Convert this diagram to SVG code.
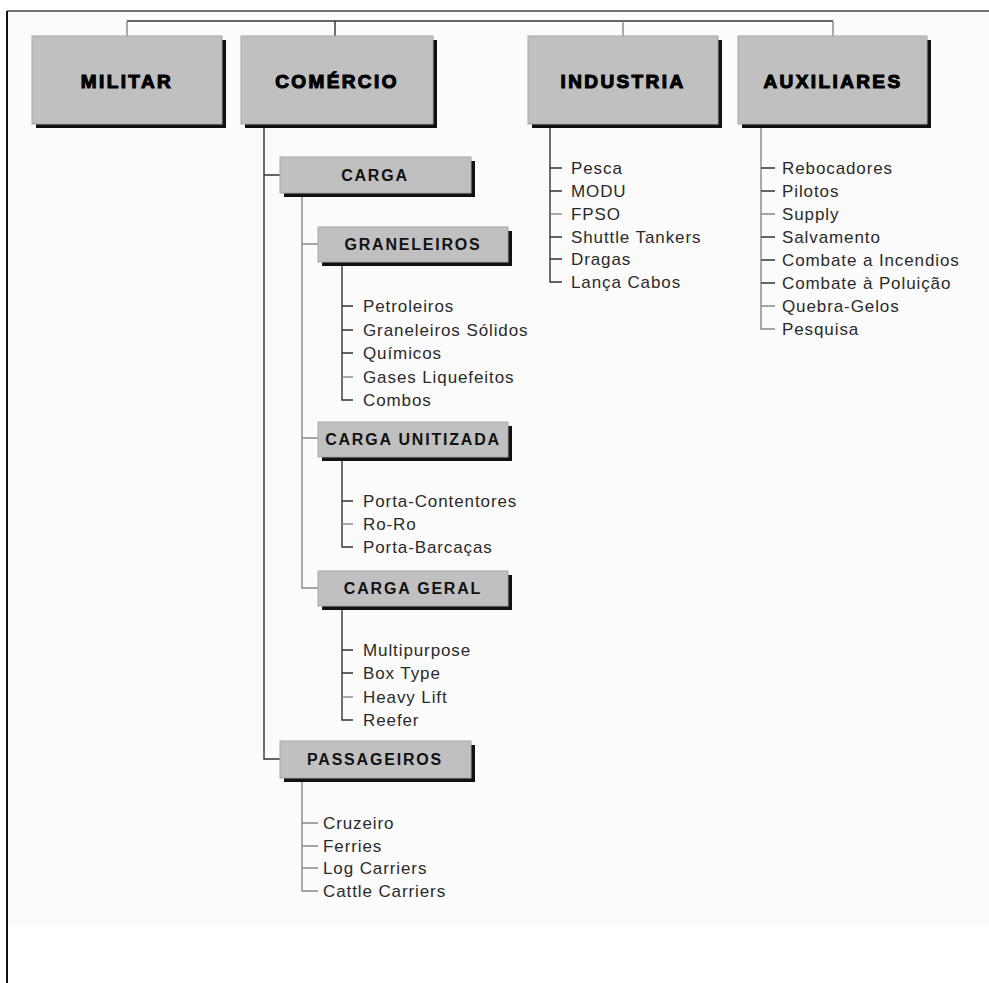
<svg xmlns="http://www.w3.org/2000/svg" width="989" height="983" viewBox="0 0 989 983">
<defs>
<style>
.shadow{fill:#111}
.box{fill:#c0c0c0;stroke:#a8a8a8;stroke-width:1}
.t1{font-family:"Liberation Sans",Arial,sans-serif;font-size:19px;font-weight:bold;letter-spacing:2.4px;fill:#000;stroke:#000;stroke-width:1.1;text-anchor:middle;dominant-baseline:central}
.t2{font-family:"Liberation Sans",Arial,sans-serif;font-size:16px;font-weight:bold;letter-spacing:1.8px;fill:#111;text-anchor:middle;dominant-baseline:central}
.leaf{font-family:"Liberation Sans",Arial,sans-serif;font-size:17px;letter-spacing:0.9px;fill:#2a2a2a;dominant-baseline:central}
.c{fill:none;stroke:#333;stroke-width:1.4}
.g{fill:none;stroke:#888;stroke-width:1.4}
</style>
</defs>
<rect x="0" y="0" width="989" height="983" fill="#fff"/>
<rect x="8" y="12" width="981" height="914" fill="#fbfbfb"/>
<g id="frame">
<line x1="7" y1="11" x2="989" y2="11" stroke="#444" stroke-width="1.5"/>
<line x1="7" y1="11" x2="7" y2="983" stroke="#111" stroke-width="2"/>
</g>
<g id="connectors">
<path class="c" d="M127 21H833"/>
<path class="g" d="M127 21V36M623 21V36M833 21V36"/>
<path class="c" d="M335 21V36"/>
<path class="c" d="M264 124V759H280M264 175H280"/>
<path class="g" d="M302 193V588H318M302 244H318M302 438H318"/>
<path class="c" d="M342 262V400H353M342 306H353M342 330H353M342 353H353"/>
<path class="g" d="M342 377H353"/>
<path class="c" d="M342 457V547H353M342 501H353"/>
<path class="g" d="M342 524H353"/>
<path class="c" d="M342 606V720H353M342 650H353M342 673H353"/>
<path class="g" d="M342 697H353"/>
<path class="g" d="M302 778V891H318M302 823H318M302 846H318M302 868H318"/>
<path class="c" d="M550 124V282H562M550 168H562M550 191H562M550 237H562M550 259H562"/>
<path class="g" d="M550 214H562"/>
<path class="g" d="M761 124V329H775M761 214H775M761 306H775"/>
<path class="c" d="M761 168H775M761 191H775M761 237H775M761 260H775M761 283H775"/>
</g>
<g id="militar"><rect class="shadow" x="36" y="40" width="190" height="88"/><rect class="box" x="32" y="36" width="190" height="88"/><text class="t1" x="127" y="81">MILITAR</text></g>
<g id="comercio"><rect class="shadow" x="245" y="40" width="192" height="88"/><rect class="box" x="241" y="36" width="192" height="88"/><text class="t1" x="337" y="81">COMÉRCIO</text></g>
<g id="industria"><rect class="shadow" x="532" y="40" width="190" height="88"/><rect class="box" x="528" y="36" width="190" height="88"/><text class="t1" x="623" y="81">INDUSTRIA</text></g>
<g id="auxiliares"><rect class="shadow" x="742" y="40" width="189" height="88"/><rect class="box" x="738" y="36" width="189" height="88"/><text class="t1" x="833" y="81">AUXILIARES</text></g>
<g id="carga"><rect class="shadow" x="284" y="161" width="191" height="36"/><rect class="box" x="280" y="157" width="191" height="36"/><text class="t2" x="375" y="175">CARGA</text></g>
<g id="graneleiros"><rect class="shadow" x="322" y="231" width="190" height="35"/><rect class="box" x="318" y="227" width="190" height="35"/><text class="t2" x="413" y="244">GRANELEIROS</text></g>
<g id="carga-unitizada"><rect class="shadow" x="322" y="426" width="190" height="35"/><rect class="box" x="318" y="422" width="190" height="35"/><text class="t2" x="413" y="439">CARGA UNITIZADA</text></g>
<g id="carga-geral"><rect class="shadow" x="322" y="575" width="190" height="35"/><rect class="box" x="318" y="571" width="190" height="35"/><text class="t2" x="413" y="588">CARGA GERAL</text></g>
<g id="passageiros"><rect class="shadow" x="284" y="745" width="191" height="37"/><rect class="box" x="280" y="741" width="191" height="37"/><text class="t2" x="375" y="759">PASSAGEIROS</text></g>
<g id="leaves-graneleiros">
<text class="leaf" x="363" y="306">Petroleiros</text>
<text class="leaf" x="363" y="330">Graneleiros Sólidos</text>
<text class="leaf" x="363" y="353">Químicos</text>
<text class="leaf" x="363" y="377">Gases Liquefeitos</text>
<text class="leaf" x="363" y="400">Combos</text>
</g>
<g id="leaves-unitizada">
<text class="leaf" x="363" y="501">Porta-Contentores</text>
<text class="leaf" x="363" y="524">Ro-Ro</text>
<text class="leaf" x="363" y="547">Porta-Barcaças</text>
</g>
<g id="leaves-geral">
<text class="leaf" x="363" y="650">Multipurpose</text>
<text class="leaf" x="363" y="673">Box Type</text>
<text class="leaf" x="363" y="697">Heavy Lift</text>
<text class="leaf" x="363" y="720">Reefer</text>
</g>
<g id="leaves-passageiros">
<text class="leaf" x="323" y="823">Cruzeiro</text>
<text class="leaf" x="323" y="846">Ferries</text>
<text class="leaf" x="323" y="868">Log Carriers</text>
<text class="leaf" x="323" y="891">Cattle Carriers</text>
</g>
<g id="leaves-industria">
<text class="leaf" x="571" y="168">Pesca</text>
<text class="leaf" x="571" y="191">MODU</text>
<text class="leaf" x="571" y="214">FPSO</text>
<text class="leaf" x="571" y="237">Shuttle Tankers</text>
<text class="leaf" x="571" y="259">Dragas</text>
<text class="leaf" x="571" y="282">Lança Cabos</text>
</g>
<g id="leaves-auxiliares">
<text class="leaf" x="782" y="168">Rebocadores</text>
<text class="leaf" x="782" y="191">Pilotos</text>
<text class="leaf" x="782" y="214">Supply</text>
<text class="leaf" x="782" y="237">Salvamento</text>
<text class="leaf" x="782" y="260">Combate a Incendios</text>
<text class="leaf" x="782" y="283">Combate à Poluição</text>
<text class="leaf" x="782" y="306">Quebra-Gelos</text>
<text class="leaf" x="782" y="329">Pesquisa</text>
</g>
</svg>
